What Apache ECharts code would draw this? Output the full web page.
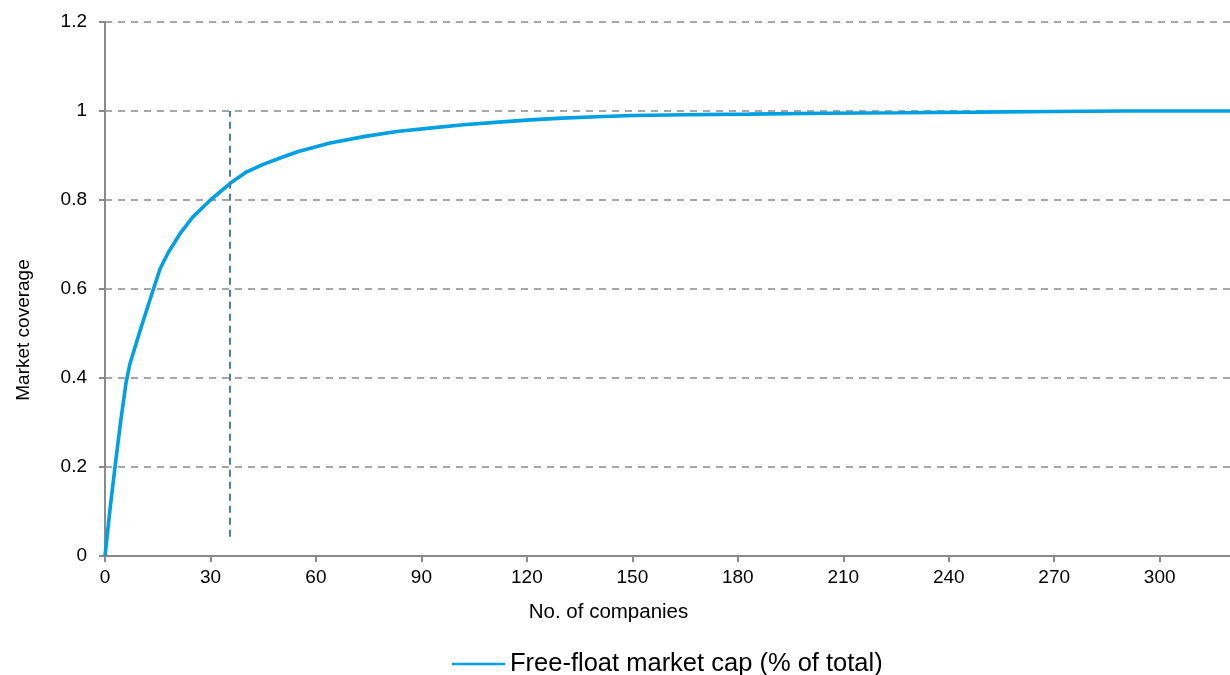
<!DOCTYPE html>
<html>
<head>
<meta charset="utf-8">
<script src="https://cdn.jsdelivr.net/npm/echarts@6/dist/echarts.min.js"></script>
<style>
html,body{margin:0;padding:0;background:#fff;}
#chart{width:1230px;height:675px;}
</style>
</head>
<body>
<div id="chart"></div>
<script>
// Data
var companies = [0, 1.5, 3, 4.5, 6, 7.1, 10, 13, 15.7, 18, 21.4, 25, 30, 35.7, 40, 45, 50, 55, 64, 74, 83, 93, 102, 112, 121, 130, 140, 150, 165, 183, 205, 226, 248, 269, 290, 320];
var coverage  = [0, 0.11, 0.21, 0.305, 0.39, 0.432, 0.507, 0.581, 0.646, 0.682, 0.725, 0.762, 0.800, 0.838, 0.862, 0.880, 0.895, 0.909, 0.928, 0.943, 0.954, 0.962, 0.969, 0.975, 0.980, 0.984, 0.987, 0.990, 0.9915, 0.993, 0.995, 0.996, 0.9975, 0.999, 1.0, 1.0];
var xTicks = [0, 30, 60, 90, 120, 150, 180, 210, 240, 270, 300];
var yTicks = [0, 0.2, 0.4, 0.6, 0.8, 1, 1.2];
var seriesName = 'Free-float market cap (% of total)';
var refX = 35.5, refYFrom = 0.043, refYTo = 1.0;

var pts = companies.map(function (c, i) { return [c, coverage[i]]; });

var chart = echarts.init(document.getElementById('chart'), null, {renderer: 'canvas'});
var font = 'Liberation Sans, Arial, sans-serif';
chart.setOption({
  animation: false,
  backgroundColor: '#ffffff',
  textStyle: {fontFamily: font},
  grid: {left: 105, right: 0, top: 22, bottom: 119, containLabel: false},
  legend: {
    show: true,
    top: 646,
    left: 447,
    itemWidth: 53,
    itemHeight: 14,
    itemGap: 10,
    textStyle: {fontFamily: font, fontSize: 25.5, color: '#000'},
    data: [{name: seriesName, icon: 'path://M0,6 L53,6 L53,8.4 L0,8.4 Z'}]
  },
  xAxis: {
    type: 'value',
    min: 0,
    max: 320,
    interval: 30,
    name: 'No. of companies',
    nameLocation: 'middle',
    nameGap: 46,
    nameTextStyle: {fontFamily: font, fontSize: 20.5, color: '#000', padding: [0, 118, 0, 0]},
    axisLine: {show: true, onZero: false, lineStyle: {color: '#8a8a8a', width: 2}},
    axisTick: {show: true, length: 6, lineStyle: {color: '#8a8a8a', width: 2}},
    axisLabel: {
      showMaxLabel: false,
      margin: 12, fontSize: 19, color: '#000', fontFamily: font,
      formatter: function (v) { return xTicks.indexOf(v) >= 0 ? String(v) : ''; }
    },
    splitLine: {show: false}
  },
  yAxis: {
    type: 'value',
    min: 0,
    max: 1.2,
    interval: 0.2,
    name: 'Market coverage',
    nameLocation: 'middle',
    nameGap: 72,
    nameRotate: 90,
    nameTextStyle: {fontFamily: font, fontSize: 19, color: '#000', padding: [0, 82, 0, 0]},
    axisLine: {show: true, lineStyle: {color: '#8a8a8a', width: 2}},
    axisTick: {show: true, length: 6, lineStyle: {color: '#8a8a8a', width: 2}},
    axisLabel: {
      margin: 18, fontSize: 19, color: '#000', fontFamily: font,
      formatter: function (v) {
        var r = Math.round(v * 10) / 10;
        for (var i = 0; i < yTicks.length; i++) if (Math.abs(yTicks[i] - r) < 1e-9) return String(yTicks[i]);
        return '';
      }
    },
    splitLine: {show: true, lineStyle: {color: '#8a8a8a', width: 1.5, type: [7, 6]}}
  },
  series: [{
    name: seriesName,
    type: 'line',
    data: pts,
    symbol: 'none',
    smooth: false,
    lineStyle: {color: '#00a0e3', width: 3.6},
    itemStyle: {color: '#00a0e3'},
    z: 3,
    markLine: {
      silent: true,
      symbol: ['none', 'none'],
      label: {show: false},
      lineStyle: {color: '#4a7ebb', width: 2, type: [7, 5]},
      data: [[{coord: [refX, refYFrom]}, {coord: [refX, refYTo]}]]
    }
  }]
});
</script>
</body>
</html>
